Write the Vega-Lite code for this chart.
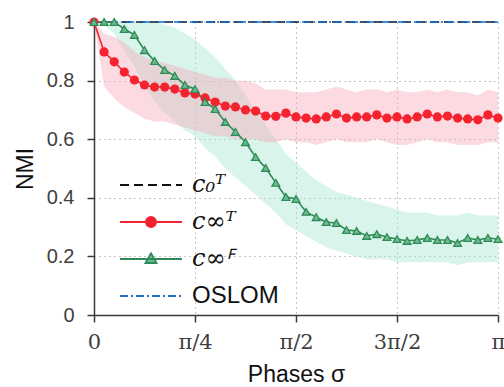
{
  "$schema": "https://vega.github.io/schema/vega-lite/v6.json",
  "width": 404,
  "height": 293,
  "autosize": "none",
  "padding": {"left": 94, "top": 22, "right": 6, "bottom": 72},
  "config": {
    "view": {"stroke": null},
    "axis": {
      "domainColor": "#3a3a3a", "domainWidth": 1.5,
      "tickColor": "#3a3a3a", "tickWidth": 1.5, "tickSize": 7,
      "gridColor": "#8a8a8a", "gridDash": [1, 4], "gridWidth": 1,
      "labelColor": "#404040", "titleColor": "#111111",
      "titleFont": "Liberation Sans", "titleFontWeight": "normal", "titleFontSize": 23
    }
  },
  "data": {"values": [
    {"phase": 0, "series": "c0T", "nmi": 1},
    {"phase": 1, "series": "c0T", "nmi": 1},
    {"phase": 0, "series": "OSLOM", "nmi": 1},
    {"phase": 1, "series": "OSLOM", "nmi": 1},
    {"phase": 0.000, "series": "cinfT", "nmi": 1.000, "lo": 1.00, "hi": 1.00},
    {"phase": 0.025, "series": "cinfT", "nmi": 0.898, "lo": 0.78, "hi": 0.96},
    {"phase": 0.050, "series": "cinfT", "nmi": 0.864, "lo": 0.74, "hi": 0.95},
    {"phase": 0.075, "series": "cinfT", "nmi": 0.829, "lo": 0.71, "hi": 0.93},
    {"phase": 0.100, "series": "cinfT", "nmi": 0.802, "lo": 0.69, "hi": 0.90},
    {"phase": 0.125, "series": "cinfT", "nmi": 0.785, "lo": 0.67, "hi": 0.88},
    {"phase": 0.150, "series": "cinfT", "nmi": 0.778, "lo": 0.66, "hi": 0.87},
    {"phase": 0.175, "series": "cinfT", "nmi": 0.778, "lo": 0.66, "hi": 0.86},
    {"phase": 0.200, "series": "cinfT", "nmi": 0.771, "lo": 0.65, "hi": 0.85},
    {"phase": 0.225, "series": "cinfT", "nmi": 0.758, "lo": 0.64, "hi": 0.84},
    {"phase": 0.250, "series": "cinfT", "nmi": 0.754, "lo": 0.63, "hi": 0.83},
    {"phase": 0.275, "series": "cinfT", "nmi": 0.741, "lo": 0.62, "hi": 0.82},
    {"phase": 0.300, "series": "cinfT", "nmi": 0.727, "lo": 0.61, "hi": 0.81},
    {"phase": 0.325, "series": "cinfT", "nmi": 0.713, "lo": 0.61, "hi": 0.81},
    {"phase": 0.350, "series": "cinfT", "nmi": 0.710, "lo": 0.60, "hi": 0.80},
    {"phase": 0.375, "series": "cinfT", "nmi": 0.700, "lo": 0.60, "hi": 0.80},
    {"phase": 0.400, "series": "cinfT", "nmi": 0.696, "lo": 0.60, "hi": 0.79},
    {"phase": 0.425, "series": "cinfT", "nmi": 0.679, "lo": 0.59, "hi": 0.77},
    {"phase": 0.450, "series": "cinfT", "nmi": 0.678, "lo": 0.59, "hi": 0.77},
    {"phase": 0.475, "series": "cinfT", "nmi": 0.689, "lo": 0.60, "hi": 0.77},
    {"phase": 0.500, "series": "cinfT", "nmi": 0.676, "lo": 0.59, "hi": 0.76},
    {"phase": 0.525, "series": "cinfT", "nmi": 0.672, "lo": 0.59, "hi": 0.76},
    {"phase": 0.550, "series": "cinfT", "nmi": 0.669, "lo": 0.58, "hi": 0.76},
    {"phase": 0.575, "series": "cinfT", "nmi": 0.676, "lo": 0.59, "hi": 0.77},
    {"phase": 0.600, "series": "cinfT", "nmi": 0.686, "lo": 0.60, "hi": 0.78},
    {"phase": 0.625, "series": "cinfT", "nmi": 0.672, "lo": 0.59, "hi": 0.77},
    {"phase": 0.650, "series": "cinfT", "nmi": 0.676, "lo": 0.59, "hi": 0.76},
    {"phase": 0.675, "series": "cinfT", "nmi": 0.676, "lo": 0.59, "hi": 0.77},
    {"phase": 0.700, "series": "cinfT", "nmi": 0.683, "lo": 0.60, "hi": 0.77},
    {"phase": 0.725, "series": "cinfT", "nmi": 0.672, "lo": 0.59, "hi": 0.76},
    {"phase": 0.750, "series": "cinfT", "nmi": 0.676, "lo": 0.58, "hi": 0.77},
    {"phase": 0.775, "series": "cinfT", "nmi": 0.669, "lo": 0.58, "hi": 0.76},
    {"phase": 0.800, "series": "cinfT", "nmi": 0.676, "lo": 0.59, "hi": 0.76},
    {"phase": 0.825, "series": "cinfT", "nmi": 0.686, "lo": 0.60, "hi": 0.77},
    {"phase": 0.850, "series": "cinfT", "nmi": 0.676, "lo": 0.59, "hi": 0.76},
    {"phase": 0.875, "series": "cinfT", "nmi": 0.679, "lo": 0.59, "hi": 0.77},
    {"phase": 0.900, "series": "cinfT", "nmi": 0.672, "lo": 0.58, "hi": 0.76},
    {"phase": 0.925, "series": "cinfT", "nmi": 0.669, "lo": 0.58, "hi": 0.76},
    {"phase": 0.950, "series": "cinfT", "nmi": 0.666, "lo": 0.58, "hi": 0.75},
    {"phase": 0.975, "series": "cinfT", "nmi": 0.683, "lo": 0.59, "hi": 0.77},
    {"phase": 1.000, "series": "cinfT", "nmi": 0.672, "lo": 0.59, "hi": 0.76},
    {"phase": 0.000, "series": "cinfF", "nmi": 1.000, "lo": 1.00, "hi": 1.00},
    {"phase": 0.025, "series": "cinfF", "nmi": 1.000, "lo": 0.99, "hi": 1.00},
    {"phase": 0.050, "series": "cinfF", "nmi": 1.000, "lo": 0.96, "hi": 1.00},
    {"phase": 0.075, "series": "cinfF", "nmi": 0.976, "lo": 0.90, "hi": 1.00},
    {"phase": 0.100, "series": "cinfF", "nmi": 0.956, "lo": 0.85, "hi": 1.00},
    {"phase": 0.125, "series": "cinfF", "nmi": 0.904, "lo": 0.78, "hi": 1.00},
    {"phase": 0.150, "series": "cinfF", "nmi": 0.867, "lo": 0.73, "hi": 1.00},
    {"phase": 0.175, "series": "cinfF", "nmi": 0.836, "lo": 0.69, "hi": 0.99},
    {"phase": 0.200, "series": "cinfF", "nmi": 0.816, "lo": 0.66, "hi": 0.98},
    {"phase": 0.225, "series": "cinfF", "nmi": 0.785, "lo": 0.63, "hi": 0.96},
    {"phase": 0.250, "series": "cinfF", "nmi": 0.771, "lo": 0.61, "hi": 0.94},
    {"phase": 0.275, "series": "cinfF", "nmi": 0.727, "lo": 0.57, "hi": 0.91},
    {"phase": 0.300, "series": "cinfF", "nmi": 0.703, "lo": 0.54, "hi": 0.88},
    {"phase": 0.325, "series": "cinfF", "nmi": 0.659, "lo": 0.50, "hi": 0.84},
    {"phase": 0.350, "series": "cinfF", "nmi": 0.625, "lo": 0.47, "hi": 0.80},
    {"phase": 0.375, "series": "cinfF", "nmi": 0.590, "lo": 0.44, "hi": 0.75},
    {"phase": 0.400, "series": "cinfF", "nmi": 0.539, "lo": 0.41, "hi": 0.70},
    {"phase": 0.425, "series": "cinfF", "nmi": 0.502, "lo": 0.38, "hi": 0.65},
    {"phase": 0.450, "series": "cinfF", "nmi": 0.451, "lo": 0.35, "hi": 0.60},
    {"phase": 0.475, "series": "cinfF", "nmi": 0.403, "lo": 0.31, "hi": 0.55},
    {"phase": 0.500, "series": "cinfF", "nmi": 0.396, "lo": 0.29, "hi": 0.52},
    {"phase": 0.525, "series": "cinfF", "nmi": 0.352, "lo": 0.27, "hi": 0.49},
    {"phase": 0.550, "series": "cinfF", "nmi": 0.334, "lo": 0.25, "hi": 0.46},
    {"phase": 0.575, "series": "cinfF", "nmi": 0.317, "lo": 0.23, "hi": 0.44},
    {"phase": 0.600, "series": "cinfF", "nmi": 0.314, "lo": 0.22, "hi": 0.42},
    {"phase": 0.625, "series": "cinfF", "nmi": 0.290, "lo": 0.21, "hi": 0.41},
    {"phase": 0.650, "series": "cinfF", "nmi": 0.287, "lo": 0.20, "hi": 0.40},
    {"phase": 0.675, "series": "cinfF", "nmi": 0.270, "lo": 0.19, "hi": 0.39},
    {"phase": 0.700, "series": "cinfF", "nmi": 0.276, "lo": 0.19, "hi": 0.38},
    {"phase": 0.725, "series": "cinfF", "nmi": 0.266, "lo": 0.19, "hi": 0.37},
    {"phase": 0.750, "series": "cinfF", "nmi": 0.259, "lo": 0.18, "hi": 0.36},
    {"phase": 0.775, "series": "cinfF", "nmi": 0.253, "lo": 0.18, "hi": 0.35},
    {"phase": 0.800, "series": "cinfF", "nmi": 0.256, "lo": 0.18, "hi": 0.35},
    {"phase": 0.825, "series": "cinfF", "nmi": 0.263, "lo": 0.18, "hi": 0.35},
    {"phase": 0.850, "series": "cinfF", "nmi": 0.256, "lo": 0.18, "hi": 0.34},
    {"phase": 0.875, "series": "cinfF", "nmi": 0.256, "lo": 0.18, "hi": 0.34},
    {"phase": 0.900, "series": "cinfF", "nmi": 0.246, "lo": 0.17, "hi": 0.34},
    {"phase": 0.925, "series": "cinfF", "nmi": 0.263, "lo": 0.18, "hi": 0.35},
    {"phase": 0.950, "series": "cinfF", "nmi": 0.256, "lo": 0.18, "hi": 0.34},
    {"phase": 0.975, "series": "cinfF", "nmi": 0.263, "lo": 0.18, "hi": 0.34},
    {"phase": 1.000, "series": "cinfF", "nmi": 0.259, "lo": 0.18, "hi": 0.34}
  ]},
  "encoding": {
    "x": {
      "field": "phase", "type": "quantitative",
      "scale": {"domain": [0, 1], "nice": false, "zero": false},
      "axis": {
        "title": "Phases σ", "values": [0, 0.25, 0.5, 0.75, 1],
        "labelExpr": "datum.value == 0 ? '0' : datum.value == 0.25 ? 'π/4' : datum.value == 0.5 ? 'π/2' : datum.value == 0.75 ? '3π/2' : 'π'",
        "labelFont": "DejaVu Serif", "labelFontSize": 21, "labelPadding": 9,
        "labelFlush": false, "labelOverlap": false, "labelBound": false,
        "grid": true, "titlePadding": 11
      }
    },
    "y": {
      "field": "nmi", "type": "quantitative",
      "scale": {"domain": [0, 1], "nice": false},
      "axis": {
        "title": "NMI", "values": [0, 0.2, 0.4, 0.6, 0.8, 1],
        "labelExpr": "datum.value == 0 ? '0' : datum.value == 1 ? '1' : format(datum.value, '.1f')",
        "labelFont": "Liberation Sans", "labelFontSize": 20, "labelPadding": 13,
        "grid": true, "titlePadding": 9
      }
    }
  },
  "layer": [
    {
      "transform": [{"filter": "datum.series === 'cinfF'"}],
      "mark": {"type": "area", "color": "#a8e6d2", "opacity": 0.45},
      "encoding": {"y": {"field": "lo", "type": "quantitative"}, "y2": {"field": "hi"}}
    },
    {
      "transform": [{"filter": "datum.series === 'cinfT'"}],
      "mark": {"type": "area", "color": "#f7a8ba", "opacity": 0.42},
      "encoding": {"y": {"field": "lo", "type": "quantitative"}, "y2": {"field": "hi"}}
    },
    {
      "mark": {"type": "line", "strokeWidth": 1.6},
      "encoding": {
        "color": {
          "field": "series", "type": "nominal",
          "scale": {"domain": ["c0T", "cinfT", "cinfF", "OSLOM"], "range": ["#111111", "#f4232f", "#2e8b57", "#1a6fc2"]},
          "legend": {
            "title": null, "orient": "none", "legendX": 45, "legendY": 151, "padding": 0,
            "symbolSize": 100, "symbolStrokeWidth": 1.8, "labelOffset": 29, "rowPadding": 13,
            "labelFontSize": 24, "labelColor": "#111111", "labelFont": "DejaVu Serif",
            "labelExpr": "datum.value === 'c0T' ? 'c₀ᵀ' : datum.value === 'cinfT' ? 'c∞ᵀ' : datum.value === 'cinfF' ? 'c∞ꟳ' : 'OSLOM'",
            "encode": {
              "symbols": {"update": {
                "shape": [
                  {"test": "datum.value === 'cinfT'", "value": "M-6.2,0L6.2,0M-1,0A1,1,0,1,0,1,0A1,1,0,1,0,-1,0Z"},
                  {"test": "datum.value === 'cinfF'", "value": "M-6.2,0L6.2,0M0,-1.15L1.1,0.8L-1.1,0.8Z"},
                  {"value": "M-6.2,0L6.2,0"}
                ],
                "fill": [
                  {"test": "datum.value === 'cinfT'", "value": "#f4232f"},
                  {"test": "datum.value === 'cinfF'", "value": "#6dbb8c"},
                  {"value": "transparent"}
                ],
                "strokeDash": [
                  {"test": "datum.value === 'c0T'", "value": [9, 5]},
                  {"test": "datum.value === 'OSLOM'", "value": [8, 3, 2, 3]},
                  {"value": [1, 0]}
                ]
              }},
              "labels": {"update": {
                "font": [{"test": "datum.value === 'OSLOM'", "value": "Liberation Sans"}, {"value": "DejaVu Serif"}],
                "fontStyle": [{"test": "datum.value === 'OSLOM'", "value": "normal"}, {"value": "italic"}]
              }}
            }
          }
        },
        "strokeDash": {
          "field": "series", "type": "nominal",
          "scale": {"domain": ["c0T", "cinfT", "cinfF", "OSLOM"], "range": [[9, 5], [1, 0], [1, 0], [8, 3, 2, 3]]},
          "legend": null
        }
      }
    },
    {
      "transform": [{"filter": "datum.series === 'cinfT'"}],
      "mark": {"type": "point", "shape": "circle", "filled": true, "color": "#f4232f", "size": 85, "opacity": 1}
    },
    {
      "transform": [{"filter": "datum.series === 'cinfF'"}],
      "mark": {"type": "point", "shape": "triangle-up", "filled": true, "fill": "#6dbb8c", "stroke": "#2e8b57", "strokeWidth": 1.3, "size": 60, "opacity": 1}
    }
  ]
}
